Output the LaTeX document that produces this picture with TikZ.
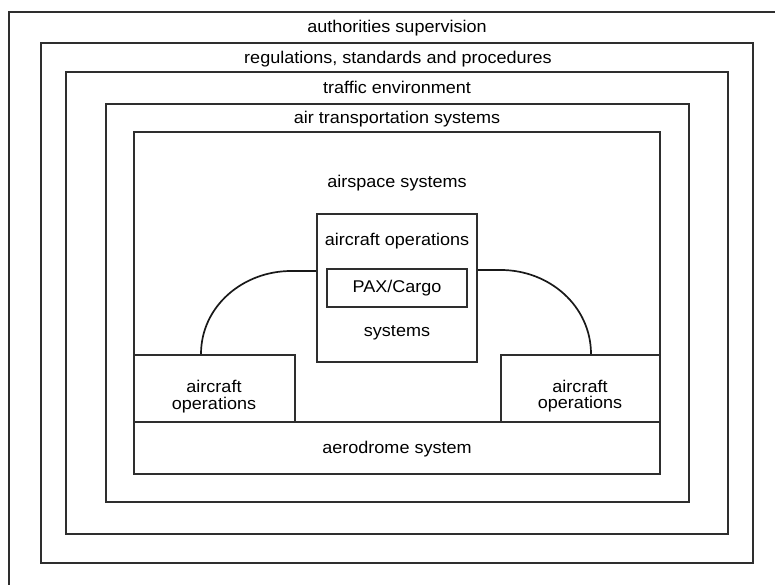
\documentclass[tikz,border=0pt]{standalone}
\usepackage{fontspec}
\setmainfont{Liberation Sans}[FakeStretch=1.06]
\usetikzlibrary{fit}
\begin{document}
\begin{tikzpicture}[x=1pt,y=-1pt,
  frame/.style={draw=black!82, line width=1.7pt, inner sep=0pt},
  lbl/.style={inner sep=0pt, anchor=base, font=\fontsize{17}{17}\selectfont},
  link/.style={draw=black!90, line width=1.7pt}]
\useasboundingbox (0,0) rectangle (775,585);
\begin{scope}
\clip (0,0) rectangle (775,585);
% nested context layers
\node[frame, fit={(9,12) (800,600)}] (auth) {};
\node[frame, fit={(41,43) (753,563)}] (regs) {};
\node[frame, fit={(66,72) (728,534)}] (traffic) {};
\node[frame, fit={(106,104) (689,502)}] (ats) {};
\node[frame, fit={(134,132) (660,474)}] (airspace) {};
% inner blocks
\node[frame, fit={(134,422) (660,474)}] (aerodrome) {};
\node[frame, fit={(134,355) (295,422)}] (lops) {};
\node[frame, fit={(501,355) (660,422)}] (rops) {};
\node[frame, fit={(317,214) (477,362)}] (acops) {};
\node[frame, fit={(327,269) (467,307)}] (pax) {};
\end{scope}
% layer titles (baselines)
\node[lbl] (tauth) at (397,33) {authorities supervision};
\node[lbl] (tregs) at (398,64) {regulations, standards and procedures};
\node[lbl] (ttraffic) at (397,94) {traffic environment};
\node[lbl] (tats) at (397,124) {air transportation systems};
\node[lbl] (tairspace) at (397,188) {airspace systems};
\node[lbl] (tacops) at (397,245.5) {aircraft operations};
\node[lbl] (tpax) at (397,292.5) {PAX/Cargo};
\node[lbl] (tsys) at (397,336.5) {systems};
\node[lbl] (tlops1) at (214,392.5) {aircraft};
\node[lbl] (tlops2) at (214,409) {operations};
\node[lbl] (trops1) at (580,392) {aircraft};
\node[lbl] (trops2) at (580,408.5) {operations};
\node[lbl] (taero) at (397,453.5) {aerodrome system};
% links between the aircraft operations blocks
\draw[link] ([yshift=17pt]acops.west) -- ++(-25,0)
  to[out=180,in=90] ([xshift=-13.5pt]lops.north);
\draw[link] ([yshift=18pt]acops.east) -- ++(23,0)
  to[out=0,in=90] ([xshift=10.5pt]rops.north);
\end{tikzpicture}
\end{document}
